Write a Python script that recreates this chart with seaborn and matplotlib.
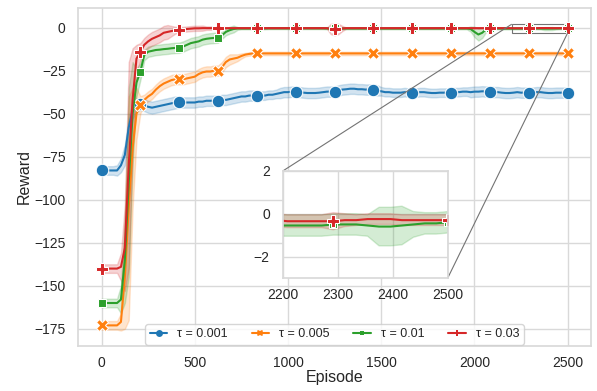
import numpy as np
import pandas as pd
import seaborn as sns
import matplotlib.pyplot as plt
from mpl_toolkits.axes_grid1.inset_locator import mark_inset

# episodes sampled every 2500/120
episodes = np.linspace(0, 2500, 121)
labels = ['τ = 0.001', 'τ = 0.005', 'τ = 0.01', 'τ = 0.03']

# mean reward per series
reward_001 = [
    -83, -83, -83, -83, -83, -80, -74, -58, -48, -45,
    -44.5, -45, -46, -46.5, -46, -45.5, -45, -44.5, -44, -43.5,
    -43.5, -43.5, -43.5, -43.5, -43.5, -43, -43, -42.5, -42.5, -42.5,
    -42.5, -42, -42, -41.5, -41, -40.5, -40, -40, -39.5, -39.5,
    -39.5, -39.5, -39.5, -39, -39, -38.5, -38, -37.5, -37.5, -37.2,
    -37.2, -37.5, -37.8, -38, -38, -38, -37.8, -37.5, -37.2, -37.2,
    -37.2, -36.5, -36, -35.8, -35.5, -35.5, -35.8, -35.8, -36, -36,
    -36, -36.5, -37, -37.5, -37.5, -37.8, -37.8, -37.8, -37.5, -37.8,
    -37.8, -37.8, -37.5, -37.5, -37.8, -38, -38, -37.8, -37.8, -37.8,
    -37.8, -37.5, -37.5, -37.2, -37.2, -37.5, -37.2, -37.2, -37, -37.2,
    -37.2, -37.5, -37.5, -37.8, -38, -38, -37.8, -37.5, -37.8, -37.8,
    -37.8, -37.8, -37.5, -37.5, -37.8, -38, -38, -37.8, -37.8, -37.8,
    -37.8]
reward_005 = [
    -173, -173, -173, -173, -173, -171, -145, -105, -70, -50,
    -44.8, -42, -40, -38.5, -36, -34, -32.5, -31.5, -30.5, -30,
    -30, -30, -29.5, -29, -28.5, -27, -26, -25.5, -25.5, -25,
    -25, -23, -20, -18.5, -18, -17.5, -16.5, -15.7, -15.3, -15,
    -15, -15, -15, -15, -15, -15, -15, -15, -15, -15,
    -15, -15, -15, -15, -15, -15, -15, -15, -15, -15,
    -15, -15, -15, -15, -15, -15, -15, -15, -15, -15,
    -15, -15, -15, -15, -15, -15, -15, -15, -15, -15,
    -15, -15, -15, -15, -15, -15, -15, -15, -15, -15,
    -15, -15, -15, -15, -15, -15, -15, -15, -15, -15,
    -15, -15, -15, -15, -15, -15, -15, -15, -15, -15,
    -15, -15, -15, -15, -15, -15, -15, -15, -15, -15,
    -15]
reward_01 = [
    -160, -160, -160, -160, -160, -158, -135, -90, -50, -32,
    -25.5, -16, -14, -13.5, -13, -12.8, -12.5, -12.3, -12, -11.8,
    -11.7, -11, -10, -9, -8.5, -8, -7, -6.5, -6.2, -6,
    -5.8, -4.5, -2.5, -1.5, -0.8, -0.5, -0.5, -0.5, -0.5, -0.5,
    -0.5, -0.5, -0.5, -0.4, -0.4, -0.4, -0.4, -0.4, -0.4, -0.4,
    -0.4, -0.4, -0.4, -0.4, -0.4, -0.4, -0.4, -0.4, -0.5, -0.5,
    -0.5, -0.5, -0.5, -0.5, -0.5, -0.5, -0.5, -0.5, -0.5, -0.5,
    -0.5, -0.5, -0.5, -0.5, -0.5, -0.5, -0.5, -0.5, -0.5, -0.5,
    -0.5, -0.5, -0.5, -0.5, -0.5, -0.5, -0.5, -0.5, -0.5, -0.5,
    -0.5, -0.5, -0.5, -0.5, -0.5, -0.8, -2.5, -4, -3, -1,
    -0.5, -0.5, -0.5, -0.55, -0.55, -0.55, -0.55, -0.55, -0.55, -0.55,
    -0.5, -0.5, -0.5, -0.55, -0.6, -0.6, -0.55, -0.5, -0.45, -0.45,
    -0.4]
reward_03 = [
    -140, -140, -140, -140, -140, -139, -128, -80, -42, -18,
    -14, -10, -8, -6.5, -5.5, -4.5, -3, -2.5, -2, -1.5,
    -1.2, -1, -0.8, -0.6, -0.4, -0.4, -0.3, -0.3, -0.3, -0.3,
    -0.3, -0.3, -0.3, -0.3, -0.3, -0.3, -0.3, -0.3, -0.3, -0.3,
    -0.3, -0.3, -0.3, -0.3, -0.3, -0.3, -0.3, -0.3, -0.3, -0.3,
    -0.3, -0.3, -0.3, -0.3, -0.3, -0.3, -0.3, -0.3, -0.3, -0.8,
    -1, -0.8, -0.5, -0.3, -0.3, -0.3, -0.3, -0.3, -0.3, -0.3,
    -0.3, -0.3, -0.3, -0.3, -0.3, -0.3, -0.3, -0.3, -0.3, -0.3,
    -0.3, -0.3, -0.3, -0.3, -0.3, -0.3, -0.3, -0.3, -0.3, -0.3,
    -0.3, -0.3, -0.3, -0.3, -0.3, -0.3, -0.3, -0.3, -0.3, -0.3,
    -0.3, -0.3, -0.3, -0.3, -0.3, -0.3, -0.35, -0.35, -0.35, -0.35,
    -0.35, -0.3, -0.3, -0.25, -0.25, -0.25, -0.3, -0.3, -0.3, -0.3,
    -0.3]

# half width of the shaded band per series
spread_001 = [
    2.5, 2.5, 2.5, 2.5, 3, 4, 6, 6, 5, 4,
    3.5, 3.5, 3.5, 3.5, 3.5, 3.5, 3.5, 3.5, 3.5, 3.5,
    3, 3, 3, 3, 3, 3, 3, 3, 3, 3,
    3, 3, 3, 3, 3, 3, 3, 3, 3, 3,
    2.5, 2.5, 2.5, 2.5, 2.5, 2.5, 3, 3, 3, 3,
    3, 3, 3, 3, 3, 3, 3, 3, 3, 3,
    3, 3, 3, 3, 3, 3, 3, 3, 3, 3,
    3, 3, 2.5, 2.5, 2.5, 2.5, 2.5, 2.5, 2.5, 2.5,
    2.5, 2.5, 2.5, 2.5, 2.5, 2.5, 2.5, 2.5, 2.5, 2.5,
    2.5, 2.5, 2.5, 2.5, 2.5, 3, 3, 3, 3, 3,
    3, 3, 3, 3, 3, 3, 3, 3, 3, 3,
    3, 3, 3, 3, 3, 3, 3, 3, 3, 3,
    3]
spread_005 = [
    2.5, 2.5, 2.5, 2.5, 2.5, 5, 30, 65, 35, 15,
    5, 3, 3, 3, 3, 3, 3, 3, 3, 3,
    3, 3, 3, 3, 3, 3, 3, 3, 3, 3,
    3, 3, 3, 3, 2.5, 2, 1.5, 1, 1, 1,
    1, 1, 1, 1, 1, 1, 1, 1, 1, 1,
    1, 1, 1, 1, 1, 1, 1, 1, 1, 1,
    1, 1, 1, 1, 1, 1, 1, 1, 1, 1,
    1, 1, 1, 1, 1, 1, 1, 1, 1, 1,
    1, 1, 1, 1, 1, 1, 1, 1, 1, 1,
    1, 1, 1, 1, 1, 1, 1, 1, 1, 1,
    1, 1, 1, 1, 1, 1, 1, 1, 1, 1,
    1, 1, 1, 1, 1, 1, 1, 1, 1, 1,
    1]
spread_01 = [
    2.5, 2.5, 2.5, 2.5, 2.5, 8, 25, 55, 30, 8,
    5, 3, 3, 3, 3, 3, 3, 3, 3, 3,
    3, 3, 3, 3, 3, 3, 3, 3, 3, 3,
    3, 2, 2, 2, 2, 0.8, 0.5, 0.5, 0.5, 0.5,
    0.5, 0.5, 0.5, 0.5, 0.5, 0.5, 0.5, 0.5, 0.5, 0.5,
    0.5, 0.5, 0.5, 0.5, 0.5, 0.5, 0.5, 0.5, 0.5, 0.5,
    0.5, 0.5, 0.5, 0.5, 0.5, 0.5, 0.5, 0.5, 0.5, 0.5,
    0.5, 0.5, 0.5, 0.5, 0.5, 0.5, 0.5, 0.5, 0.5, 0.5,
    0.5, 0.5, 0.5, 0.5, 0.5, 0.5, 0.5, 0.5, 0.5, 0.5,
    0.5, 0.5, 0.5, 0.5, 0.5, 1.5, 3, 3.5, 3, 1.5,
    0.5, 0.5, 0.5, 0.5, 0.5, 0.5, 0.5, 0.5, 0.5, 0.5,
    0.5, 0.5, 0.5, 0.5, 0.9, 0.9, 0.9, 0.6, 0.5, 0.5,
    0.5]
spread_03 = [
    2.5, 2.5, 2.5, 2.5, 2.5, 8, 25, 60, 30, 8,
    5, 4, 4, 4, 4, 4, 4, 4, 3, 2,
    1.5, 1.5, 1.5, 1.5, 1.5, 1.5, 1.5, 1, 1, 1,
    0.5, 0.3, 0.3, 0.3, 0.3, 0.3, 0.3, 0.3, 0.3, 0.3,
    0.3, 0.3, 0.3, 0.3, 0.3, 0.3, 0.3, 0.3, 0.3, 0.3,
    0.3, 0.3, 0.3, 0.3, 0.3, 0.3, 0.3, 0.3, 0.3, 3,
    3.5, 3, 1.5, 0.3, 0.3, 0.3, 0.3, 0.3, 0.3, 0.3,
    0.3, 0.3, 0.3, 0.3, 0.3, 0.3, 0.3, 0.3, 0.3, 0.3,
    0.3, 0.3, 0.3, 0.3, 0.3, 0.3, 0.3, 0.3, 0.3, 0.3,
    0.3, 0.3, 0.3, 0.3, 0.3, 0.3, 0.3, 0.3, 0.3, 0.3,
    0.3, 0.3, 0.3, 0.3, 0.3, 0.3, 0.3, 0.3, 0.3, 0.3,
    0.4, 0.3, 0.25, 0.25, 0.25, 0.25, 0.25, 0.25, 0.25, 0.25,
    0.25]

means = [reward_001, reward_005, reward_01, reward_03]
spreads = [spread_001, spread_005, spread_01, spread_03]

# long form: lower / mean / upper rows so seaborn draws the band (min..max)
frames = []
for lab, m, s in zip(labels, means, spreads):
    m = np.array(m)
    s = np.array(s)
    for y in (m - s, m, m + s):
        frames.append(pd.DataFrame({'Episode': episodes, 'Reward': y, 'tau': lab}))
df = pd.concat(frames, ignore_index=True)

sns.set_theme(style="whitegrid", palette="tab10")
plt.rcParams['font.family'] = ['Liberation Sans', 'DejaVu Sans']
plt.rcParams['axes.edgecolor'] = '0.85'
plt.rcParams['grid.color'] = '0.85'

fig = plt.figure(figsize=(5.97, 3.91), dpi=100)
ax = fig.add_axes([0.131, 0.115, 0.859, 0.865])

line_kws = dict(x='Episode', y='Reward', hue='tau', style='tau', hue_order=labels,
                style_order=labels, markers=True, dashes=False, estimator='mean',
                errorbar=('pi', 100), markevery=10, markersize=9, linewidth=1.5)
sns.lineplot(data=df, ax=ax, **line_kws)

ax.set_xlim(-125, 2625)
ax.set_ylim(-185, 11.5)
ax.set_xticks([0, 500, 1000, 1500, 2000, 2500])
ax.set_yticks([0, -25, -50, -75, -100, -125, -150, -175])
ax.tick_params(labelsize=10)
ax.tick_params(axis='x', pad=1)
ax.tick_params(axis='y', pad=3)
ax.set_xlabel('Episode', fontsize=11.5, labelpad=0)
ax.set_ylabel('Reward', fontsize=11.5, labelpad=2)

handles, labs = ax.get_legend_handles_labels()
leg = ax.legend(handles, labs, loc='lower center', ncol=4, fontsize=9,
                handlelength=1.4, handletextpad=0.8, columnspacing=1.9,
                borderaxespad=0.1, frameon=True, borderpad=0.35)
for h in leg.legend_handles:
    h.set_markersize(5)
    h.set_markeredgewidth(0)

# zoomed inset on the last 300 episodes
axins = fig.add_axes([0.474, 0.289, 0.276, 0.274])
sns.lineplot(data=df, ax=axins, legend=False, **line_kws)
axins.set_xlim(2200, 2500)
axins.set_ylim(-3, 2)
axins.set_xticks([2200, 2300, 2400, 2500])
axins.set_yticks([-2, 0, 2])
axins.set_xlabel('')
axins.set_ylabel('')
axins.tick_params(labelsize=10)
axins.tick_params(axis='x', pad=1)
mark_inset(ax, axins, loc1=2, loc2=4, fc='none', ec='0.45', lw=0.8)

fig.savefig('out.png', dpi=100)
